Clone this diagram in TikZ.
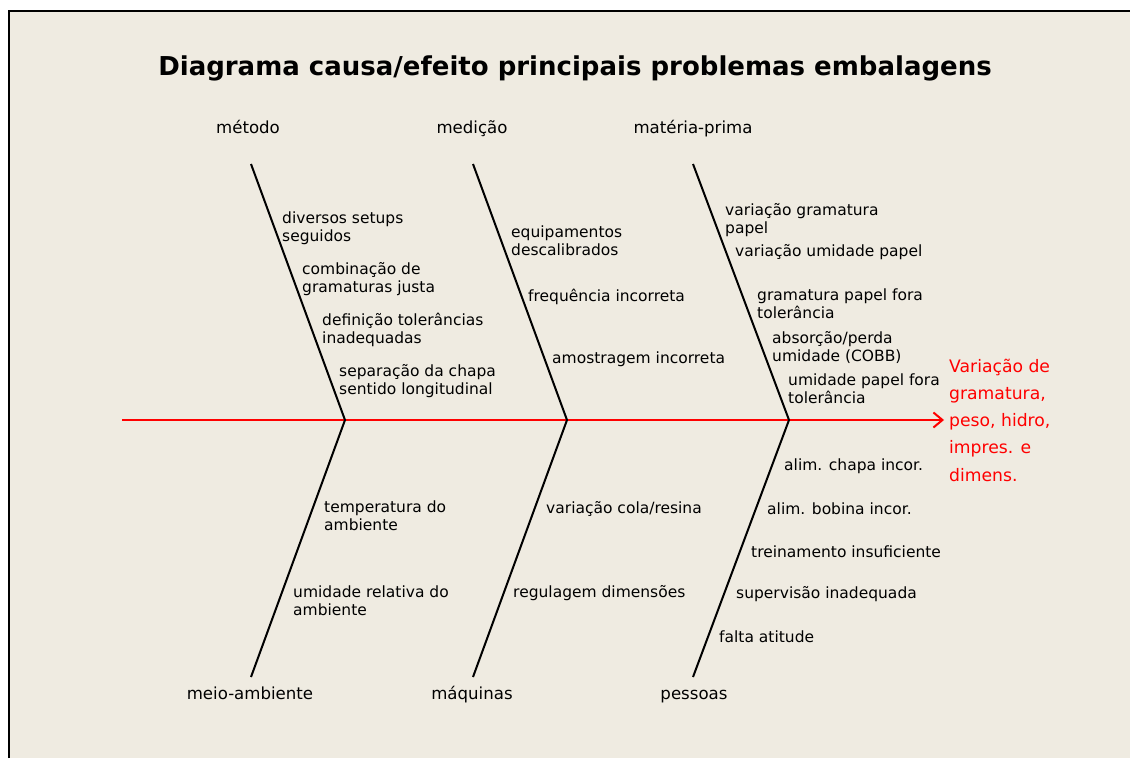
\documentclass[tikz,border=0pt]{standalone}
\usepackage{fontspec}
\setmainfont{DejaVu Sans}
\usetikzlibrary{arrows.meta}
\definecolor{fundo}{RGB}{239,235,225}

\begin{document}
\begin{tikzpicture}[x=1pt,y=-1pt,
	causa/.style={anchor=base west,inner sep=0pt,align=left,font=\fontsize{15.5}{17.5}\selectfont},
	grupo/.style={anchor=base,inner sep=0pt,font=\fontsize{16.6}{20}\selectfont},
	espinha/.style={line width=2pt}]
\useasboundingbox (0,0) rectangle (1130,758);
\fill[fundo] (9,11) rectangle (1130,758);
\draw[line width=1.5pt] (9,758) -- (9,11) -- (1130,11);
\node [anchor=base,inner sep=0pt,font=\bfseries\fontsize{26}{30}\selectfont] (titulo) at (575,75) {Diagrama causa/efeito principais problemas embalagens};

\node [grupo] (metodo) at (248,133) {método};
\node [grupo] (medicao) at (472,133) {medição};
\node [grupo] (materia) at (693,133) {matéria-prima};
\node [grupo] (meio) at (250,699) {meio-ambiente};
\node [grupo] (maquinas) at (472,699) {máquinas};
\node [grupo] (pessoas) at (694,699) {pessoas};

\coordinate (t1) at (251,164);
\coordinate (t2) at (473,164);
\coordinate (t3) at (693,164);
\coordinate (j1) at (345,420);
\coordinate (j2) at (567,420);
\coordinate (j3) at (789,420);
\coordinate (b1) at (251,677);
\coordinate (b2) at (473,677);
\coordinate (b3) at (693,677);
\coordinate (cauda) at (122,420);

\node [anchor=base west,inner xsep=5pt,inner ysep=0pt,align=left,text=red,font=\fontsize{17.2}{27.2}\selectfont] (efeito) at (944,481) {Variação de\\gramatura,\\peso, hidro,\\impres. e\\dimens.};

\draw[espinha,red,-{Straight Barb[length=9pt,width=15pt]}] (cauda) -- (cauda -| efeito.west);
\draw[espinha] (t1) -- (j1) -- (b1);
\draw[espinha] (t2) -- (j2) -- (b2);
\draw[espinha] (t3) -- (j3) -- (b3);

\node [causa] (c11) at (282,241) {diversos setups\\seguidos};
\node [causa] (c12) at (302,292) {combinação de\\gramaturas justa};
\node [causa] (c13) at (322,343) {definição tolerâncias\\inadequadas};
\node [causa] (c14) at (339,394) {separação da chapa\\sentido longitudinal};

\node [causa] (c21) at (511,255) {equipamentos\\descalibrados};
\node [causa] (c22) at (528,301) {frequência incorreta};
\node [causa] (c23) at (552,363) {amostragem incorreta};

\node [causa] (c31) at (725,233) {variação gramatura\\papel};
\node [causa] (c32) at (735,256) {variação umidade papel};
\node [causa] (c33) at (757,318) {gramatura papel fora\\tolerância};
\node [causa] (c34) at (772,361) {absorção/perda\\umidade (COBB)};
\node [causa] (c35) at (788,403) {umidade papel fora\\tolerância};

\node [causa] (c41) at (324,530) {temperatura do\\ambiente};
\node [causa] (c42) at (293,615) {umidade relativa do\\ambiente};

\node [causa] (c51) at (546,513) {variação cola/resina};
\node [causa] (c52) at (513,597) {regulagem dimensões};

\node [causa] (c61) at (784,470) {alim. chapa incor.};
\node [causa] (c62) at (767,514) {alim. bobina incor.};
\node [causa] (c63) at (751,557) {treinamento insuficiente};
\node [causa] (c64) at (736,598) {supervisão inadequada};
\node [causa] (c65) at (719,642) {falta atitude};
\end{tikzpicture}
\end{document}
